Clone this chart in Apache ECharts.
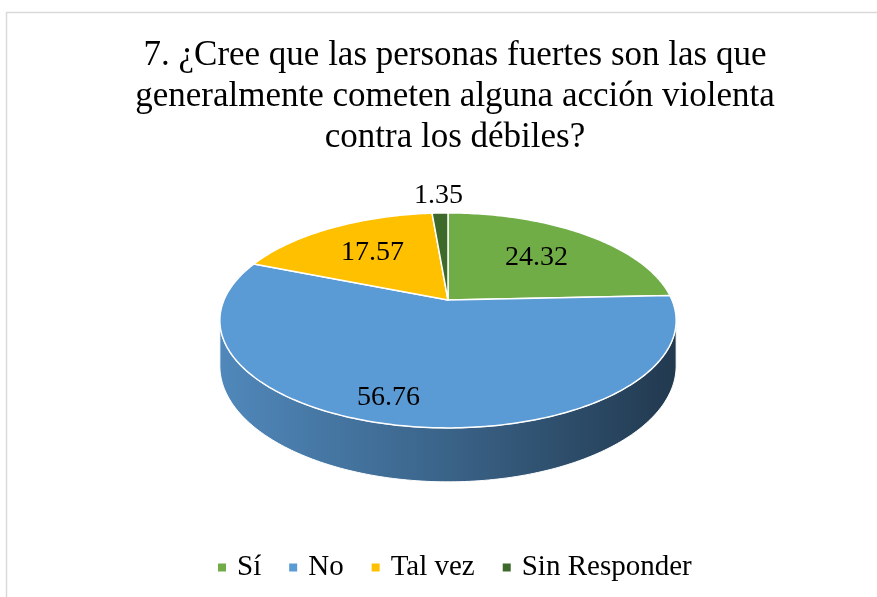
<!DOCTYPE html>
<html>
<head>
<meta charset="utf-8">
<script src="https://cdn.jsdelivr.net/npm/echarts@6/dist/echarts.min.js"></script>
<style>
  html, body { margin: 0; padding: 0; background: #fff; }
  #chart { width: 877px; height: 597px; }
</style>
</head>
<body>
<div id="chart"></div>
<script>
// datos de la pregunta 7
const categories = ['Sí', 'No', 'Tal vez', 'Sin Responder'];
const values = [24.32, 56.76, 17.57, 1.35];
const colors = ['#70ad47', '#5b9bd5', '#ffc000', '#3d6a2b'];

// geometria del pastel 3D (perspectiva)
const K = 0.19;      // factor de perspectiva
const A = 224;       // radio horizontal
const B = 103.6;     // radio vertical
const CX = 448, CY = 300;
const T = 43.7;      // grosor
const FRONT_A = Math.acos(-K);
const FRONT_B = 2 * Math.PI - FRONT_A;
const FONT = '"Liberation Serif", "Times New Roman", serif';

// ajuste de etiquetas (como las coloca Excel)
const labelShift = [[0, 0], [-33, 26], [0, 0], [0, 0]];

const total = values.reduce((a, b) => a + b, 0);
const starts = [];
let acc = 0;
values.forEach(v => { starts.push(acc / total * 2 * Math.PI); acc += v; });

function proj(theta, r, depth) {
  const u = r * Math.sin(theta), v = r * Math.cos(theta);
  const den = 1 + K * v;
  return [CX + A * u / den, CY - B * v / den + depth * T / den];
}

function arc(s, e, r, depth) {
  const pts = [];
  const n = Math.max(2, Math.ceil((e - s) / (Math.PI / 180)));
  for (let i = 0; i <= n; i++) pts.push(proj(s + (e - s) * i / n, r, depth));
  return pts;
}

function shade(hex, f) {
  const n = parseInt(hex.slice(1), 16);
  const r = Math.round(((n >> 16) & 255) * f), g = Math.round(((n >> 8) & 255) * f), b = Math.round((n & 255) * f);
  return 'rgb(' + r + ',' + g + ',' + b + ')';
}

const chart = echarts.init(document.getElementById('chart'));

const series = [{
  name: '_pared',
  type: 'custom',
  coordinateSystem: 'none',
  silent: true,
  z: 1,
  data: values,
  renderItem: function (params, api) {
    const i = params.dataIndex;
    const s = starts[i], e = s + api.value(0) / total * 2 * Math.PI;
    const lo = Math.max(s, FRONT_A), hi = Math.min(e, FRONT_B);
    if (hi <= lo) return { type: 'group', children: [] };
    const pts = arc(lo, hi, 1, 0).concat(arc(lo, hi, 1, 1).reverse());
    return {
      type: 'polygon',
      shape: { points: pts },
      style: {
        fill: {
          type: 'linear', global: true,
          x: CX - A * 1.02, y: 0, x2: CX + A * 1.02, y2: 0,
          colorStops: [
            { offset: 0, color: shade(colors[i], 0.88) },
            { offset: 0.5, color: shade(colors[i], 0.64) },
            { offset: 1, color: shade(colors[i], 0.37) }
          ]
        },
        stroke: '#ffffff',
        lineWidth: 1
      }
    };
  }
}];

categories.forEach(function (name, idx) {
  series.push({
    name: name,
    type: 'custom',
    coordinateSystem: 'none',
    silent: true,
    z: 2,
    itemStyle: { color: colors[idx] },
    data: [values[idx]],
    renderItem: function (params, api) {
      const s = starts[idx], e = s + api.value(0) / total * 2 * Math.PI;
      const pts = [proj(0, 0, 0)].concat(arc(s, e, 1, 0));
      const small = api.value(0) / total < 0.05;
      const lp = proj((s + e) / 2, small ? 1.25 : 0.62, 0);
      return {
        type: 'group',
        children: [{
          type: 'polygon',
          shape: { points: pts },
          style: { fill: colors[idx], stroke: '#ffffff', lineWidth: 1.5, lineJoin: 'round' }
        }, {
          type: 'text',
          z2: 10,
          style: {
            text: api.value(0).toFixed(2),
            x: lp[0] + labelShift[idx][0],
            y: lp[1] + labelShift[idx][1],
            align: 'center',
            verticalAlign: 'middle',
            fontSize: 28,
            fontFamily: FONT,
            fill: '#000'
          }
        }]
      };
    }
  });
});

chart.setOption({
  backgroundColor: '#fff',
  animation: false,
  title: {
    text: '7. ¿Cree que las personas fuertes son las que\ngeneralmente cometen alguna acción violenta\ncontra los débiles?',
    left: 450,
    top: 30,
    textAlign: 'center',
    textStyle: {
      fontFamily: FONT,
      fontSize: 35,
      fontWeight: 'normal',
      lineHeight: 41,
      color: '#000'
    }
  },
  legend: {
    data: categories,
    left: 213,
    top: 548,
    icon: 'rect',
    itemWidth: 8,
    itemHeight: 8,
    itemGap: 28,
    selectedMode: false,
    textStyle: {
      fontFamily: FONT,
      fontSize: 29,
      color: '#000',
      padding: [0, 0, 0, 6]
    }
  },
  graphic: [{
    type: 'rect',
    z: -10,
    silent: true,
    shape: { x: 6.5, y: 12.5, width: 1000, height: 1000 },
    style: { fill: 'none', stroke: '#d9d9d9', lineWidth: 1.5 }
  }],
  series: series
});
</script>
</body>
</html>
